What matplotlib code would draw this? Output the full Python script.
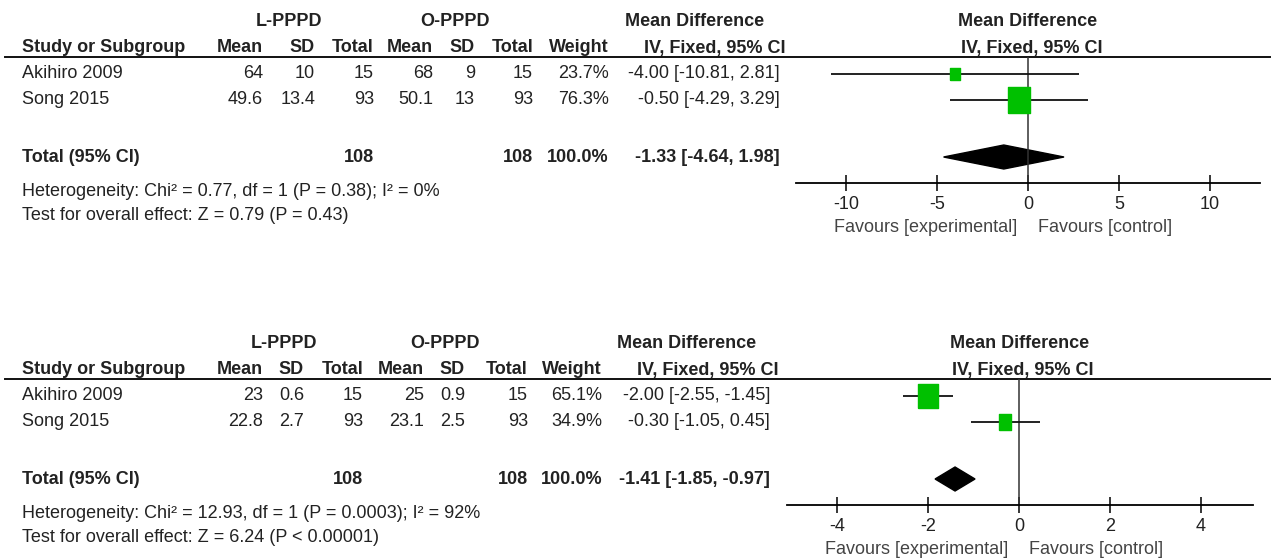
import numpy as np
import matplotlib
matplotlib.use("Agg")
import matplotlib.pyplot as plt
from matplotlib.patches import Polygon

plt.rcParams['font.family'] = ['Liberation Sans', 'DejaVu Sans']

W, H = 1272, 560

studies = ["Akihiro 2009", "Song 2015"]
col_heads = ["Mean", "SD", "Total", "Mean", "SD", "Total", "Weight"]

# panel 1
l_mean1 = [64, 49.6]
l_sd1 = [10, 13.4]
l_n1 = [15, 93]
o_mean1 = [68, 50.1]
o_sd1 = [9, 13]
o_n1 = [15, 93]
weight1 = [23.7, 76.3]
md1 = [-4.00, -0.50]
lo1 = [-10.81, -4.29]
hi1 = [2.81, 3.29]
total1 = [-1.33, -4.64, 1.98]
het1 = "Heterogeneity: Chi\u00b2 = 0.77, df = 1 (P = 0.38); I\u00b2 = 0%"
test1 = "Test for overall effect: Z = 0.79 (P = 0.43)"
ticks1 = [-10, -5, 0, 5, 10]

# panel 2
l_mean2 = [23, 22.8]
l_sd2 = [0.6, 2.7]
l_n2 = [15, 93]
o_mean2 = [25, 23.1]
o_sd2 = [0.9, 2.5]
o_n2 = [15, 93]
weight2 = [65.1, 34.9]
md2 = [-2.00, -0.30]
lo2 = [-2.55, -1.05]
hi2 = [-1.45, 0.45]
total2 = [-1.41, -1.85, -0.97]
het2 = "Heterogeneity: Chi\u00b2 = 12.93, df = 1 (P = 0.0003); I\u00b2 = 92%"
test2 = "Test for overall effect: Z = 6.24 (P < 0.00001)"
ticks2 = [-4, -2, 0, 2, 4]

TXT = '#222222'
GREEN = '#00c000'
FS = 13

fig = plt.figure(figsize=(W / 100, H / 100), dpi=100)
bg = fig.add_axes([0, 0, 1, 1])
bg.set_xlim(0, W)
bg.set_ylim(H, 0)
bg.axis('off')

box = [(-0.85, -1), (0.85, -1), (0.85, 1), (-0.85, 1), (-0.85, -1)]


def panel(off, cols, mdx, grp, mdc, ivc, fx, xlim,
          lm, ls, ln, om, osd, on, wt, md, lo, hi, tot, het, test, ticks):
    ygrp, yhead, yline = 21 + off, 48 + off, 57 + off
    rows = [74 + off, 100 + off]
    ytot, yhet, ytest = 157 + off, 191 + off, 216 + off
    yaxis = 183 + off

    bg.text(grp[0], ygrp, "L-PPPD", ha='center', va='center', fontsize=FS, fontweight='bold', color=TXT)
    bg.text(grp[1], ygrp, "O-PPPD", ha='center', va='center', fontsize=FS, fontweight='bold', color=TXT)
    bg.text(mdc, ygrp, "Mean Difference", ha='center', va='center', fontsize=FS, fontweight='bold', color=TXT)
    bg.text(22, yhead, "Study or Subgroup", ha='left', va='center', fontsize=FS, fontweight='bold', color=TXT)
    for x, s in zip(cols, col_heads):
        bg.text(x, yhead, s, ha='right', va='center', fontsize=FS, fontweight='bold', color=TXT)
    bg.text(ivc, yhead, "IV, Fixed, 95% CI", ha='center', va='center', fontsize=FS, fontweight='bold', color=TXT)
    bg.plot([5, 1270], [yline, yline], color='#111111', lw=1.4)

    for i, y in enumerate(rows):
        vals = [f"{lm[i]:g}", f"{ls[i]:g}", f"{ln[i]}", f"{om[i]:g}", f"{osd[i]:g}", f"{on[i]}",
                f"{wt[i]:.1f}%"]
        bg.text(22, y, studies[i], ha='left', va='center', fontsize=FS, color=TXT)
        for x, s in zip(cols, vals):
            bg.text(x, y, s, ha='right', va='center', fontsize=FS, color=TXT)
        bg.text(mdx, y, f"{md[i]:.2f} [{lo[i]:.2f}, {hi[i]:.2f}]", ha='right', va='center',
                fontsize=FS, color=TXT)

    bg.text(22, ytot, "Total (95% CI)", ha='left', va='center', fontsize=FS, fontweight='bold', color=TXT)
    bg.text(cols[2], ytot, f"{sum(ln)}", ha='right', va='center', fontsize=FS, fontweight='bold', color=TXT)
    bg.text(cols[5], ytot, f"{sum(on)}", ha='right', va='center', fontsize=FS, fontweight='bold', color=TXT)
    bg.text(cols[6], ytot, f"{sum(wt):.1f}%", ha='right', va='center', fontsize=FS, fontweight='bold', color=TXT)
    bg.text(mdx, ytot, f"{tot[0]:.2f} [{tot[1]:.2f}, {tot[2]:.2f}]", ha='right', va='center',
            fontsize=FS, fontweight='bold', color=TXT)
    bg.text(22, yhet, het, ha='left', va='center', fontsize=FS, color=TXT)
    bg.text(22, ytest, test, ha='left', va='center', fontsize=FS, color=TXT)

    # forest plot axes, y in pixel rows
    x0, x1 = fx
    ax = fig.add_axes([x0 / W, 1 - yaxis / H, (x1 - x0) / W, (yaxis - yline) / H])
    ax.set_facecolor('none')
    ax.set_xlim(*xlim)
    ax.set_ylim(yaxis, yline)
    for s in ['top', 'left', 'right']:
        ax.spines[s].set_visible(False)
    ax.spines['bottom'].set_linewidth(1.3)
    ax.set_yticks([])
    ax.set_xticks(ticks)
    ax.set_xticklabels([f"{t:g}".replace('-', '-') for t in ticks])
    ax.tick_params(axis='x', direction='inout', length=12, width=1.1, labelsize=FS,
                   labelcolor=TXT, pad=3.5)
    ax.axvline(0, color='#333333', lw=1.1)

    ax.hlines(rows, lo, hi, color='#111111', lw=1.3)
    for i, y in enumerate(rows):
        hpx = 1.25 * wt[i] ** 0.7
        ax.plot(md[i], y, marker=box, ms=hpx * 0.72, color=GREEN, mec=GREEN, ls='none')
    d = Polygon([(tot[1], ytot), (tot[0], ytot - 12), (tot[2], ytot), (tot[0], ytot + 12)],
                closed=True, color='black')
    ax.add_patch(d)

    # headers and favours labels placed from the zero position
    zx = x0 + (0 - xlim[0]) / (xlim[1] - xlim[0]) * (x1 - x0)
    bg.text(zx, ygrp, "Mean Difference", ha='center', va='center', fontsize=FS, fontweight='bold', color=TXT)
    bg.text(zx + 4, yhead, "IV, Fixed, 95% CI", ha='center', va='center', fontsize=FS, fontweight='bold', color=TXT)
    bg.text(zx - 11, yaxis + 45, "Favours [experimental]", ha='right', va='center', fontsize=FS, color='#444444')
    bg.text(zx + 10, yaxis + 45, "Favours [control]", ha='left', va='center', fontsize=FS, color='#444444')


panel(0, [263, 315, 374, 433, 475, 533, 609], 780, [289, 455], 695, 715,
      (796, 1260), (-12.75, 12.75),
      l_mean1, l_sd1, l_n1, o_mean1, o_sd1, o_n1, weight1, md1, lo1, hi1, total1, het1, test1, ticks1)
panel(322, [263, 304, 363, 424, 465, 528, 602], 770, [284, 445], 687, 708,
      (787, 1253), (-5.11, 5.15),
      l_mean2, l_sd2, l_n2, o_mean2, o_sd2, o_n2, weight2, md2, lo2, hi2, total2, het2, test2, ticks2)

fig.savefig("out.png", dpi=100, facecolor='white')
